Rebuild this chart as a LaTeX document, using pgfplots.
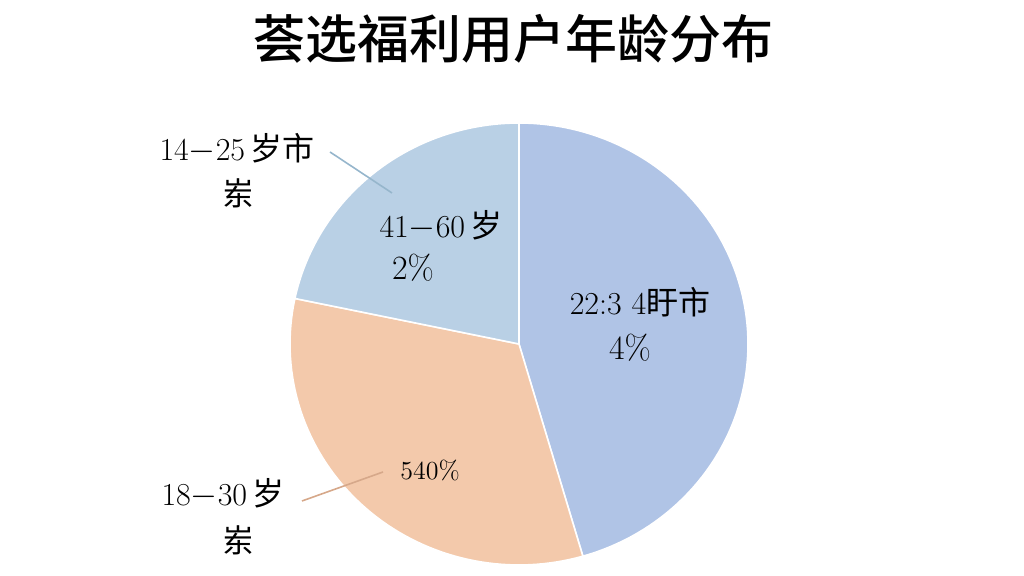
\documentclass[border=0pt]{standalone}
\usepackage{fontspec}
\usepackage{pgfplots}
\pgfplotsset{compat=1.18}
\newfontfamily\cjk{Noto Sans CJK SC}
\newfontfamily\cjkm{Noto Sans CJK SC Medium}

\definecolor{sliceA}{RGB}{176,196,230}
\definecolor{sliceB}{RGB}{243,201,171}
\definecolor{sliceC}{RGB}{185,208,229}
\definecolor{leadA}{RGB}{150,182,204}
\definecolor{leadB}{RGB}{214,168,138}

% slice shares, percent
\def\va{45.5}
\def\vb{32.8}
\def\vc{21.7}
\pgfmathsetmacro\aA{90-3.6*\va}
\pgfmathsetmacro\aB{\aA-3.6*\vb}

\begin{document}
\begin{tikzpicture}
\begin{axis}[
    width=512pt, height=288pt, scale only axis,
    xmin=0, xmax=1024, ymin=0, ymax=576,
    hide axis, clip=false,
]
\path (rel axis cs:0,0) rectangle (rel axis cs:1,1);
\addplot[fill=sliceA, draw=white, line width=0.8pt, domain=\aA:90, samples=90, variable=\t]
    ({519+229*cos(\t)}, {232+221*sin(\t)}) -- (axis cs:519,232) -- cycle;
\addplot[fill=sliceB, draw=white, line width=0.8pt, domain=\aB:\aA, samples=70, variable=\t]
    ({519+229*cos(\t)}, {232+221*sin(\t)}) -- (axis cs:519,232) -- cycle;
\addplot[fill=sliceC, draw=white, line width=0.8pt, domain=90:\aB+360, samples=50, variable=\t]
    ({519+229*cos(\t)}, {232+221*sin(\t)}) -- (axis cs:519,232) -- cycle;

\addplot[leadA, line width=0.8pt] coordinates {(330,424) (392,383)};
\addplot[leadB, line width=0.8pt] coordinates {(302,75) (383,104)};

\node[font=\cjkm\fontsize{26}{30}\selectfont] at (axis cs:514,537) {荟选福利用户年龄分布};

\node[font=\fontsize{16}{19}\selectfont] at (axis cs:237,428) {14$-$25\,{\cjk 岁市}};
\node[font=\cjk\fontsize{16}{19}\selectfont] at (axis cs:238,383) {岽};
\node[font=\fontsize{16}{19}\selectfont] at (axis cs:441,351) {41$-$60\,{\cjk 岁}};
\node[font=\fontsize{17}{19}\selectfont] at (axis cs:413,308) {2\%};
\node[font=\fontsize{16}{19}\selectfont] at (axis cs:640,274) {22:3 4{\cjk 盱市}};
\node[font=\fontsize{17}{19}\selectfont] at (axis cs:630,228) {4\%};
\node[font=\fontsize{13}{16}\selectfont] at (axis cs:430,106) {540\%};
\node[font=\fontsize{16}{19}\selectfont] at (axis cs:223,83) {18$-$30\,{\cjk 岁}};
\node[font=\cjk\fontsize{16}{19}\selectfont] at (axis cs:238,36) {岽};
\end{axis}
\end{tikzpicture}
\end{document}
